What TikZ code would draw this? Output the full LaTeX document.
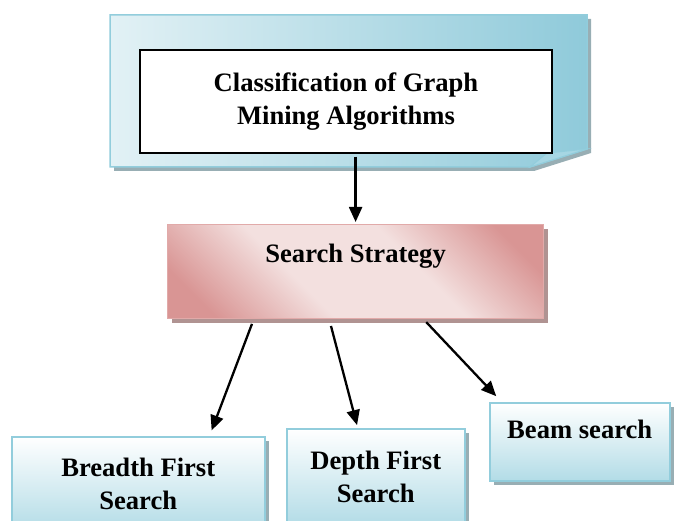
\documentclass[tikz,border=0pt]{standalone}
\usepackage{fontspec}
\setmainfont{Liberation Serif}
\usetikzlibrary{arrows.meta, positioning, calc, shadows}
\definecolor{BoxBlue}{HTML}{92CDDC}
\definecolor{PaleBlue}{HTML}{E2F1F5}
\definecolor{DeepBlue}{HTML}{8FCADA}
\definecolor{FoldBlue}{HTML}{A6D6E3}
\definecolor{RoseEdge}{HTML}{D99594}
\definecolor{RoseLight}{HTML}{F3E0DF}
\definecolor{ShadowGray}{HTML}{98AEB4}
\definecolor{RoseShadow}{HTML}{B09392}
\pgfdeclarehorizontalshading{roseband}{100bp}{color(0bp)=(RoseEdge); color(22bp)=(RoseEdge);
  color(40bp)=(RoseLight); color(60bp)=(RoseLight); color(78bp)=(RoseEdge); color(100bp)=(RoseEdge)}

\begin{document}
\begin{tikzpicture}[x=1pt, y=-1pt,
  every node/.style={font=\fontsize{26.6}{33}\selectfont\bfseries},
  leaf/.style={draw=BoxBlue, line width=1.5pt, top color=white, bottom color=BoxBlue!70,
    anchor=north west, align=center, inner sep=0pt,
    drop shadow={shadow xshift=4pt, shadow yshift=-4pt, fill=ShadowGray, opacity=1}},
  arr/.style={line width=2.3pt, -{Triangle[length=15pt, width=13pt]}}]
  \useasboundingbox (0,0) rectangle (674,521);

  % folded card behind the title
  \fill[ShadowGray] (114,19) -- (591,19) -- (591,153) -- (534,171) -- (114,171) -- cycle;
  \shade[left color=PaleBlue, right color=DeepBlue, draw=BoxBlue, line width=1.5pt]
    (110,15) -- (587,15) -- (587,149) -- (530,167) -- (110,167) -- cycle;
  \filldraw[fill=FoldBlue, draw=BoxBlue, line width=1pt] (530,167) -- (547,153) -- (587,149) -- cycle;

  % title
  \node[draw, line width=1.5pt, fill=white, minimum width=412, minimum height=103, align=center]
    (cls) at (346,101.5) {Classification of Graph\\Mining Algorithms};

  % search strategy
  \node[anchor=north west, minimum width=376, inner sep=0pt, text height=38, text depth=56,
    shade, shading=roseband, shading angle=45,
    draw=RoseEdge!80, line width=1.2pt,
    drop shadow={shadow xshift=4pt, shadow yshift=-4pt, fill=RoseShadow, opacity=1}]
    (ss) at (167,224) {Search Strategy};

  % leaves
  \node[leaf, minimum width=253, minimum height=94] (bfs) at (11,436) {Breadth First\\Search};
  \node[leaf, minimum width=178, minimum height=96] (dfs) at (286,428) {Depth First\\Search};
  \node[leaf, minimum width=180, minimum height=78, text height=36, text depth=42] (bms) at (489,402) {Beam search};

  % arrows
  \draw[arr, shorten <=3pt, shorten >=2pt] (cls.south -| ss.north) -- (ss.north);
  \draw[arr, shorten <=5pt, shorten >=6pt] ($(ss.south west)!.23!(ss.south east)$) -- ($(bfs.north west)!.78!(bfs.north east)$);
  \draw[arr, shorten <=7pt, shorten >=3pt] ($(ss.south west)!.43!(ss.south east)$) -- ($(dfs.north west)!.40!(dfs.north east)$);
  \draw[arr, shorten <=4pt, shorten >=8pt] ($(ss.south west)!.68!(ss.south east)$) -- ($(bms.north west)!.07!(bms.north east)$);
\end{tikzpicture}
\end{document}
